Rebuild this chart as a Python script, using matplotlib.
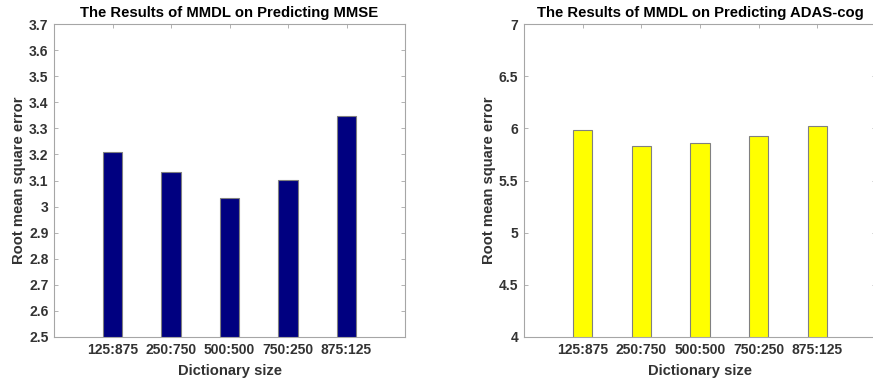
import matplotlib
matplotlib.use("Agg")
import matplotlib.pyplot as plt
import numpy as np

categories = ["125:875", "250:750", "500:500", "750:250", "875:125"]
mmse_rmse = [3.209, 3.134, 3.033, 3.102, 3.349]
adas_rmse = [5.987, 5.830, 5.857, 5.926, 6.025]
mmse_yticks = [2.5, 2.6, 2.7, 2.8, 2.9, 3.0, 3.1, 3.2, 3.3, 3.4, 3.5, 3.6, 3.7]
mmse_yticklabels = ["2.5", "2.6", "2.7", "2.8", "2.9", "3", "3.1", "3.2", "3.3", "3.4", "3.5", "3.6", "3.7"]
adas_yticks = [4, 4.5, 5, 5.5, 6, 6.5, 7]
adas_yticklabels = ["4", "4.5", "5", "5.5", "6", "6.5", "7"]

plt.rcParams['font.family'] = ['Liberation Sans', 'DejaVu Sans']
plt.rcParams['font.weight'] = 'bold'

W, H = 873, 386
fig = plt.figure(figsize=(W / 100, H / 100), dpi=100)

def make_ax(left, right, top, bottom):
    return fig.add_axes([left / W, 1 - bottom / H, (right - left) / W, (bottom - top) / H])

ax1 = make_ax(54, 405, 24, 337)
ax2 = make_ax(524, 876, 24, 337)

spine_col = '#a6a6a6'
text_col = '#333333'

def style(ax, values, color, yticks, ylabels, ylim, title):
    x = np.arange(1, len(categories) + 1)
    ax.bar(x, values, width=0.33, color=color, edgecolor='#808080', linewidth=0.8, zorder=2)
    ax.set_xlim(0, 6)
    ax.set_ylim(*ylim)
    ax.set_xticks(x)
    ax.set_xticklabels(categories)
    ax.set_yticks(yticks)
    ax.set_yticklabels(ylabels)
    for s in ax.spines.values():
        s.set_color(spine_col)
        s.set_linewidth(0.8)
    ax.tick_params(direction='in', length=3, width=0.6, color=spine_col,
                   top=True, right=True, labelsize=10, labelcolor=text_col, pad=4)
    for lab in ax.get_xticklabels() + ax.get_yticklabels():
        lab.set_fontweight('bold')
    ax.set_xlabel('Dictionary size', fontsize=10.6, fontweight='bold', color=text_col, labelpad=5)
    ax.set_ylabel('Root mean square error', fontsize=10.6, fontweight='bold', color=text_col)
    ax.yaxis.set_label_coords(-0.080, 0.5)
    ax.set_title(title, fontsize=10.7, fontweight='bold', color='black', pad=5)

style(ax1, mmse_rmse, '#000080', mmse_yticks, mmse_yticklabels, (2.5, 3.7),
      'The Results of MMDL on Predicting MMSE')
style(ax2, adas_rmse, '#ffff00', adas_yticks, adas_yticklabels, (4, 7),
      'The Results of MMDL on Predicting ADAS-cog')

fig.savefig('out.png', dpi=100)
